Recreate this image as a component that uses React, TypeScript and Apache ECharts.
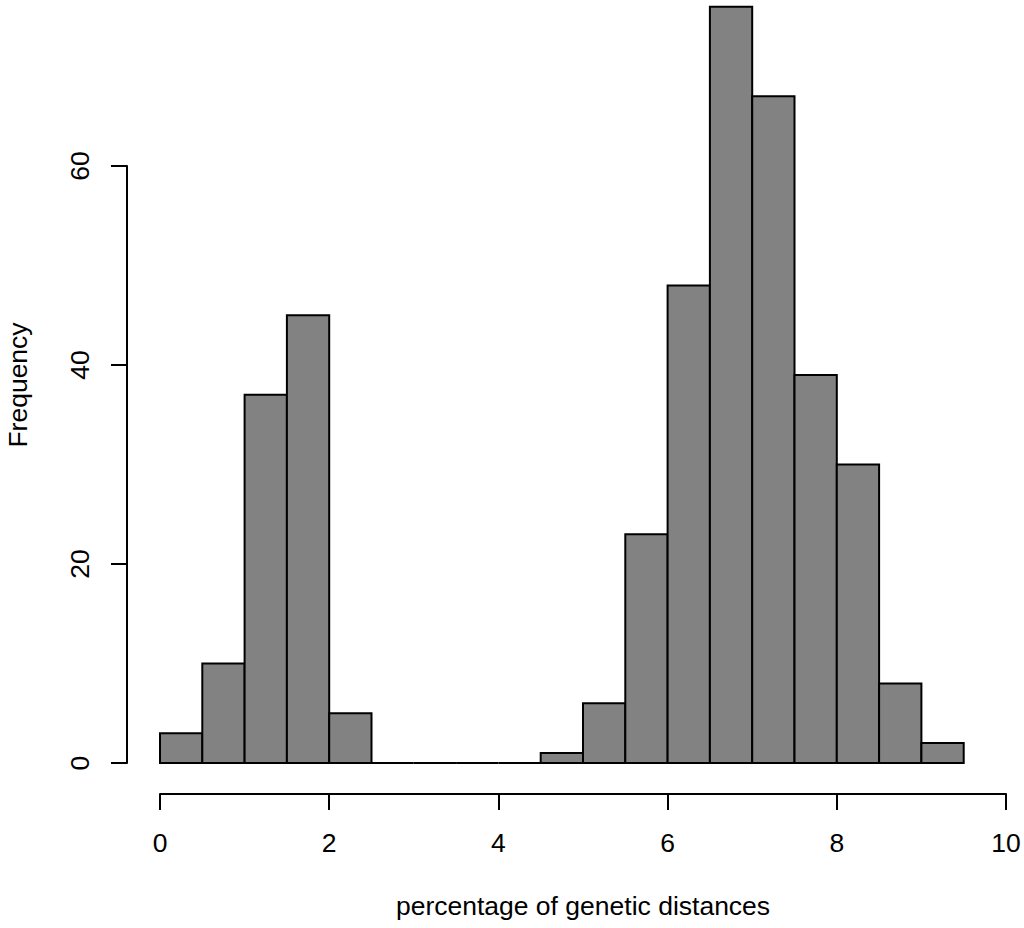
import React, { useEffect, useRef } from "react";
import * as echarts from "echarts";

const binStarts = [0, 0.5, 1, 1.5, 2, 2.5, 3, 3.5, 4, 4.5, 5, 5.5, 6, 6.5, 7, 7.5, 8, 8.5, 9];
const binWidth = 0.5;
const counts = [3, 10, 37, 45, 5, 0, 0, 0, 0, 1, 6, 23, 48, 76, 67, 39, 30, 8, 2];
const xTicks = [0, 2, 4, 6, 8, 10];
const yTicks = [0, 20, 40, 60];
const xTitle = "percentage of genetic distances";
const yTitle = "Frequency";

const FONT = "'Liberation Sans', Arial, Helvetica, sans-serif";
const FS = 26.5;

export default function App() {
  const ref = useRef<HTMLDivElement>(null);
  useEffect(() => {
    if (!ref.current) return;
    const chart = echarts.init(ref.current, null, { renderer: "svg" });
    const data = binStarts.map((s, i) => [s, s + binWidth, counts[i]]);
    chart.setOption({
      animation: false,
      backgroundColor: "#ffffff",
      grid: { left: 160, right: 18, top: 166, bottom: 165, containLabel: false },
      xAxis: {
        type: "value",
        min: xTicks[0],
        max: xTicks[xTicks.length - 1],
        interval: 2,
        offset: 31,
        splitLine: { show: false },
        axisLine: { show: true, onZero: false, lineStyle: { color: "#000", width: 2 } },
        axisTick: { show: true, length: 16, lineStyle: { color: "#000", width: 2 } },
        axisLabel: { color: "#000", fontSize: FS, fontFamily: FONT, margin: 35, showMinLabel: true, showMaxLabel: true },
        name: xTitle,
        nameLocation: "middle",
        nameGap: 98,
        nameTextStyle: { color: "#000", fontSize: FS, fontFamily: FONT },
      },
      yAxis: {
        type: "value",
        min: yTicks[0],
        max: yTicks[yTicks.length - 1],
        interval: 20,
        offset: 33,
        splitLine: { show: false },
        axisLine: { show: true, onZero: false, lineStyle: { color: "#000", width: 2 } },
        axisTick: { show: true, length: 16, lineStyle: { color: "#000", width: 2 } },
        axisLabel: { color: "#000", fontSize: FS, fontFamily: FONT, margin: 34, rotate: 90 },
      },
      graphic: [
        {
          type: "text",
          x: 18,
          y: 385,
          rotation: Math.PI / 2,
          style: {
            text: yTitle,
            fill: "#000",
            fontSize: FS,
            fontFamily: FONT,
            align: "center",
            verticalAlign: "middle",
          },
        },
      ],
      series: [
        {
          type: "custom",
          clip: false,
          data,
          renderItem: (params: any, api: any) => {
            const x0 = api.value(0);
            const x1 = api.value(1);
            const c = api.value(2);
            const p0 = api.coord([x0, 0]);
            const p1 = api.coord([x1, c]);
            if (c === 0) {
              return {
                type: "line",
                shape: { x1: p0[0], y1: p0[1], x2: p1[0], y2: p0[1] },
                style: { stroke: "#000", lineWidth: 2 },
              };
            }
            return {
              type: "rect",
              shape: { x: p0[0], y: p1[1], width: p1[0] - p0[0], height: p0[1] - p1[1] },
              style: { fill: "#828282", stroke: "#000", lineWidth: 2 },
            };
          },
        },
      ],
    });
    return () => chart.dispose();
  }, []);
  return (
    <div style={{ position: "absolute", left: 0, top: 0 }}>
      <div ref={ref} style={{ width: 1024, height: 928 }} />
    </div>
  );
}
